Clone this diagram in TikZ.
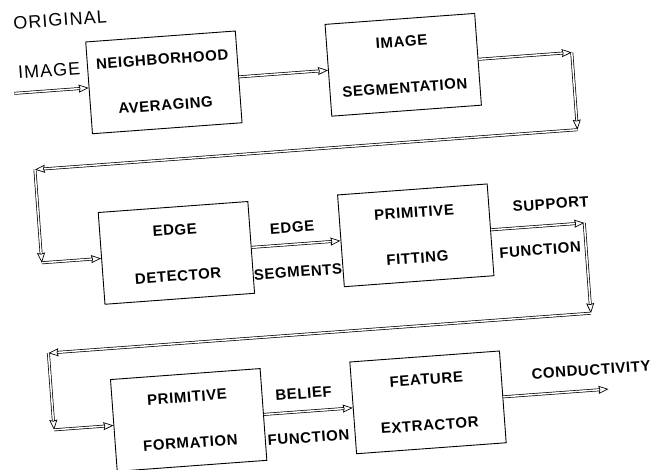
\documentclass[tikz,border=0pt]{standalone}
\usepackage{fontspec}
\setmainfont{Liberation Sans}
\newfontfamily\boxfont[LetterSpace=4]{Liberation Sans}
\newfontfamily\regfont[LetterSpace=6]{Liberation Sans}
\usetikzlibrary{arrows.meta}
\tikzset{
  blk/.style={draw, line width=0.9pt, minimum width=150pt, minimum height=92pt,
    inner sep=0pt, align=center, font=\boxfont\bfseries\fontsize{15}{46}\selectfont, transform shape},
  lbl/.style={font=\boxfont\bfseries\fontsize{15}{18}\selectfont, inner sep=0pt, transform shape},
  inlbl/.style={font=\regfont\fontsize{18}{20}\selectfont, inner sep=0pt, transform shape},
  flow/.style={draw, double, double distance=1.5pt, line width=0.7pt,
    -{Stealth[open, length=10pt, width=8pt, inset=1pt]}},
}
\begin{document}
\begin{tikzpicture}
\useasboundingbox (0,0) rectangle (663pt,470pt);
\begin{scope}[shift={(331.5pt,235pt)}, rotate=4.2, x=1pt, y=1pt]
  % boxes
  \node[blk] (b1) at (-156,164.5) {NEIGHBORHOOD\\AVERAGING};
  \node[blk] (b2) at (84,164.5) {IMAGE\\SEGMENTATION};
  \node[blk] (b3) at (-156,-6.5) {EDGE\\DETECTOR};
  \node[blk] (b4) at (84,-6.5) {PRIMITIVE\\FITTING};
  \node[blk] (b5) at (-156,-174) {PRIMITIVE\\FORMATION};
  \node[blk] (b6) at (84,-174) {FEATURE\\EXTRACTOR};
  % route points
  \coordinate (in) at (-306,164.5);
  \coordinate (c1) at (253,164.5);
  \coordinate (c2) at (253,87);
  \coordinate (c3) at (-291,87);
  \coordinate (c4) at (-291,-6.5);
  \coordinate (d1) at (253,-6.5);
  \coordinate (d2) at (253,-97);
  \coordinate (d3) at (-291,-97);
  \coordinate (d4) at (-291,-174);
  \coordinate (out) at (265,-174);
  % labels
  \node[inlbl] (lorig) at (-255,234.5) {ORIGINAL};
  \node[inlbl] (limg) at (-269.5,185) {IMAGE};
  \node[lbl] (ledge) at (-38.8,10.4) {EDGE};
  \node[lbl] (lseg) at (-36.1,-34.4) {SEGMENTS};
  \node[lbl] (lsup) at (221,14.8) {SUPPORT};
  \node[lbl] (lfun1) at (207,-30.2) {FUNCTION};
  \node[lbl] (lbel) at (-39.5,-156) {BELIEF};
  \node[lbl] (lfun2) at (-37.7,-200.3) {FUNCTION};
  \node[lbl] (lcond) at (249,-153.6) {CONDUCTIVITY};
  % connectors
  \draw[flow] (in) -- (b1.west);
  \draw[flow] (b1.east) -- (b2.west);
  \draw[flow] (b2.east) -- (c1);
  \draw[flow] (c1) -- (c2);
  \draw[flow] (c2) -- (c3);
  \draw[flow] (c3) -- (c4);
  \draw[flow] (c4) -- (b3.west);
  \draw[flow] (b3.east) -- (b4.west);
  \draw[flow] (b4.east) -- (d1);
  \draw[flow] (d1) -- (d2);
  \draw[flow] (d2) -- (d3);
  \draw[flow] (d3) -- (d4);
  \draw[flow] (d4) -- (b5.west);
  \draw[flow] (b5.east) -- (b6.west);
  \draw[flow] (b6.east) -- (out);
\end{scope}
\end{tikzpicture}
\end{document}
